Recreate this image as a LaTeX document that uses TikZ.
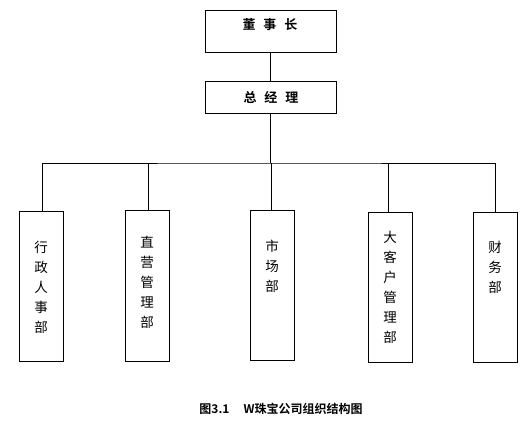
\documentclass[tikz,border=0pt]{standalone}
\usepackage{fontspec}
\newfontfamily\cjk{Noto Sans CJK SC}
\newfontfamily\cjkb{Noto Sans CJK SC Bold}
\begin{document}
\begin{tikzpicture}[x=1pt,y=-1pt,
  box/.style={draw, line width=0.9pt, inner sep=0pt, anchor=north west},
  conn/.style={line width=0.9pt},
  lbl/.style={font=\cjk\fontsize{13.5}{20}\selectfont, align=center, inner sep=0pt, anchor=north},
  hlbl/.style={font=\cjkb\fontsize{13}{15}\selectfont, inner sep=0pt}]
\useasboundingbox (0,0) rectangle (532,424);
% top boxes
\node[box, minimum width=131pt, minimum height=42pt] (ceo) at (205,10) {};
\node[hlbl] (ceot) at (270,25) {董\hspace{8pt}事\hspace{8pt}长};
\node[box, minimum width=131pt, minimum height=32pt] (gm) at (205,81) {};
\node[hlbl] (gmt) at (271,97) {总\hspace{8pt}经\hspace{8pt}理};
% departments
\node[box, minimum width=44pt, minimum height=150pt] (d1) at (19,211) {};
\node[box, minimum width=44pt, minimum height=151pt] (d2) at (125,210) {};
\node[box, minimum width=44pt, minimum height=150pt] (d3) at (250,210) {};
\node[box, minimum width=44pt, minimum height=150pt] (d4) at (368,212) {};
\node[box, minimum width=44pt, minimum height=150pt] (d5) at (473,212) {};
\node[lbl] (t1) at (41,241) {行\\政\\人\\事\\部};
\node[lbl] (t2) at (147,236) {直\\营\\管\\理\\部};
\node[lbl] (t3) at (272,240) {市\\场\\部};
\node[lbl] (t4) at (390,231) {大\\客\\户\\管\\理\\部};
\node[lbl] (t5) at (495,241) {财\\务\\部};
% connectors
\coordinate (bus) at (270,163);
\draw[conn] (ceo.south -| 270,0) -- (gm.north -| 270,0);
\draw[conn] (gm.south -| 270,0) -- (bus);
\draw[conn] (d1.north -| 42,0) |- (bus) -| (d5.north -| 495,0);
\draw[conn] (d2.north -| 148,0) -- (148,163);
\draw[conn] (d3.north -| 271,0) -- (271,163);
\draw[conn] (d4.north -| 388,0) -- (388,163);
% caption
\node[font=\cjkb\fontsize{12}{14}\selectfont, inner sep=0pt] (cap) at (281,409) {图3.1\hspace{14pt}W珠宝公司组织结构图};
\end{tikzpicture}
\end{document}
